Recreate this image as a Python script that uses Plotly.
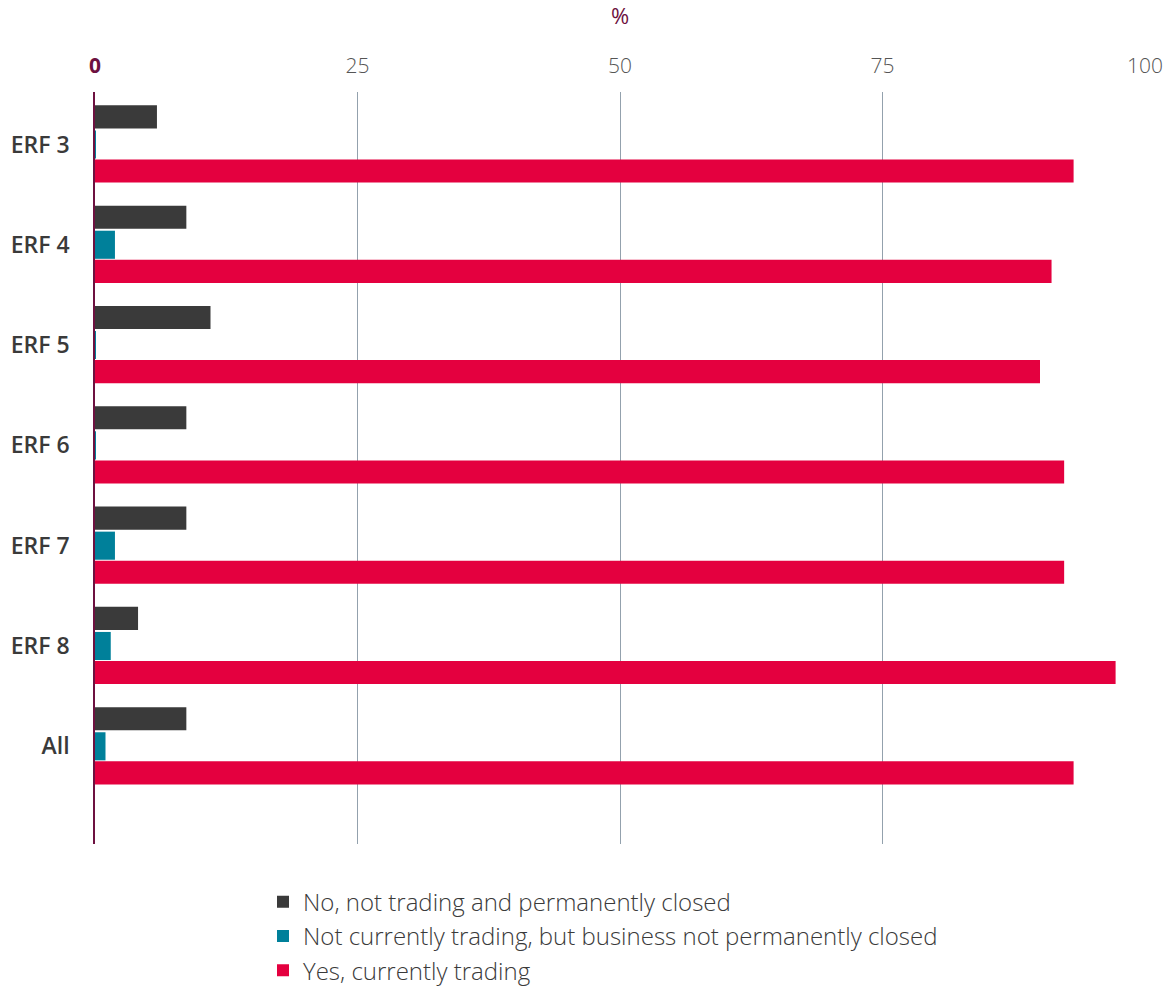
import plotly.graph_objects as go

categories = ["ERF 3", "ERF 4", "ERF 5", "ERF 6", "ERF 7", "ERF 8", "All"]
closed_permanently = [5.9, 8.7, 11.0, 8.7, 8.7, 4.1, 8.7]
not_trading_temporarily = [0.05, 1.9, 0.05, 0.05, 1.9, 1.5, 1.0]
currently_trading = [93.2, 91.1, 90.0, 92.3, 92.3, 97.2, 93.2]

series_names = [
    "No, not trading and permanently closed",
    "Not currently trading, but business not permanently closed",
    "Yes, currently trading",
]
x_ticks = [0, 25, 50, 75, 100]

MAROON = "#6d1140"
TEXT = "#3a3a3a"
FONT = "Open Sans"

fig = go.Figure()
bar_specs = [
    (closed_permanently, "#3a3a3a", -0.39, 0.23),
    (not_trading_temporarily, "#00809a", -0.14, 0.28),
    (currently_trading, "#e4003f", 0.15, 0.23),
]
positions = list(range(len(categories)))
for name, (vals, color, off, w) in zip(series_names, bar_specs):
    fig.add_trace(go.Bar(
        y=positions, x=vals, orientation="h", name=name,
        marker=dict(color=color, line=dict(width=0)),
        offset=off, width=w,
    ))

tick_text = [f"<span style='color:{MAROON}'><b>0</b></span>"] + [str(t) for t in x_ticks[1:]]

fig.update_layout(
    width=1167, height=986,
    margin=dict(l=95, r=22, t=92, b=142, autoexpand=False),
    paper_bgcolor="white", plot_bgcolor="white",
    barmode="overlay",
    font=dict(family=FONT, color=TEXT),
    xaxis=dict(
        side="top", range=[0, 100], tickvals=x_ticks, ticktext=tick_text,
        tickfont=dict(size=21, color="#555555", family=FONT, weight=300),
        showgrid=True, gridcolor="#93a1ad", gridwidth=1,
        zeroline=False, showline=False, ticks="", ticklabelstandoff=14,
        automargin=False,
        title=dict(text="%", font=dict(size=22, color=MAROON, family=FONT), standoff=20),
    ),
    yaxis=dict(
        range=[6.974, -0.523], tickvals=positions, ticktext=categories,
        tickfont=dict(size=23, color=TEXT, family=FONT, weight=600),
        showgrid=False, zeroline=False,
        showline=True, linecolor=MAROON, linewidth=1.5,
        ticks="", ticklabelstandoff=19, automargin=False,
    ),
    legend=dict(
        x=0.16, y=-0.0475, xanchor="left", yanchor="top",
        orientation="v", traceorder="normal",
        font=dict(size=24, color=TEXT, family=FONT, weight=300),
        itemwidth=30, tracegroupgap=0,
        bgcolor="rgba(0,0,0,0)",
    ),
    showlegend=True,
)

fig.write_html("out.html", post_script="document.body.style.margin='0';")
